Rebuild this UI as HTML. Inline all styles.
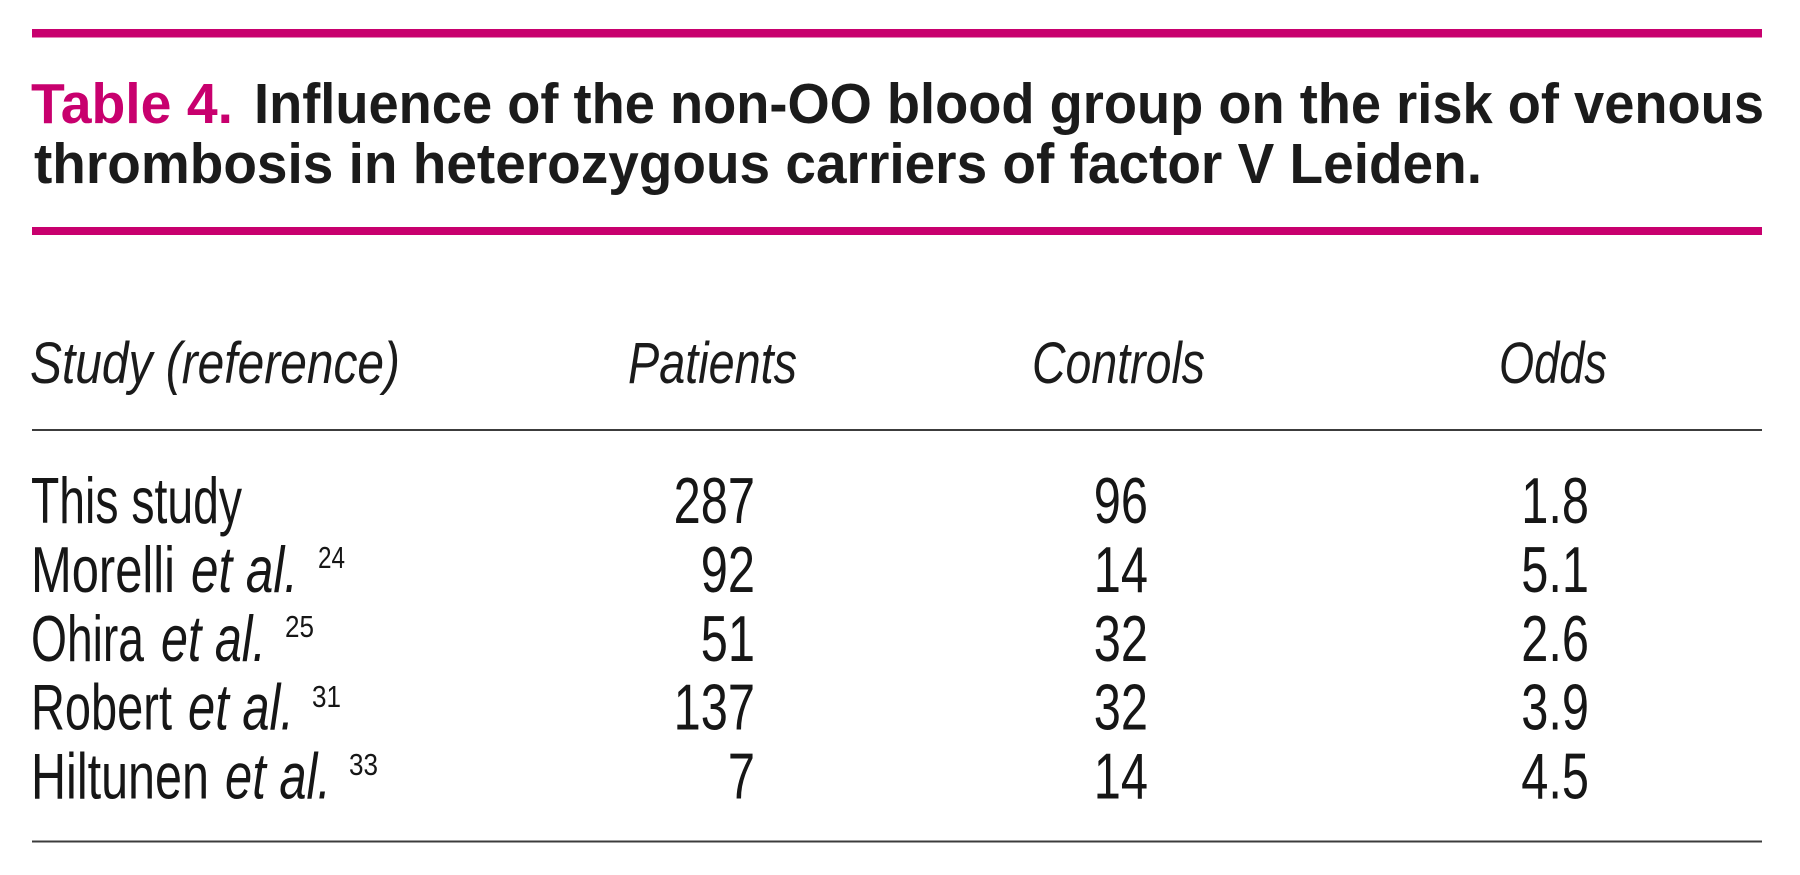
<!DOCTYPE html>
<html>
<head>
<meta charset="utf-8">
<style>
  html, body { margin: 0; padding: 0; background: #ffffff; }
  body { width: 1800px; height: 875px; overflow: hidden; }
  svg { display: block; }
  .t { font-family: "Liberation Sans", sans-serif; font-weight: bold; font-size: 57px; fill: #1b1b1b; }
  .h { font-family: "Liberation Sans", sans-serif; font-style: italic; font-size: 58px; fill: #1b1b1b; }
  .b { font-family: "Liberation Sans", sans-serif; font-size: 65px; fill: #161616; }
  .i { font-family: "Liberation Sans", sans-serif; font-style: italic; font-size: 65px; fill: #161616; }
  .s { font-family: "Liberation Sans", sans-serif; font-size: 31px; fill: #161616; }
</style>
</head>
<body>
<svg width="1800" height="875" viewBox="0 0 1800 875" xmlns="http://www.w3.org/2000/svg">
  <rect x="0" y="0" width="1800" height="875" fill="#ffffff"/>

  <!-- pink rules -->
  <rect x="32" y="29" width="1730" height="8.5" fill="#C8006E"/>
  <rect x="32" y="227" width="1730" height="8" fill="#C8006E"/>

  <!-- title -->
  <text class="t" x="31" y="123" textLength="202" lengthAdjust="spacingAndGlyphs" style="fill:#C8006E">Table 4.</text>
  <text class="t" x="254" y="123" textLength="1510" lengthAdjust="spacingAndGlyphs">Influence of the non-OO blood group on the risk of venous</text>
  <text class="t" x="34" y="183" textLength="1448" lengthAdjust="spacingAndGlyphs">thrombosis in heterozygous carriers of factor V Leiden.</text>

  <!-- header -->
  <text class="h" x="30" y="383" textLength="370" lengthAdjust="spacingAndGlyphs">Study (reference)</text>
  <text class="h" x="628" y="383" textLength="169" lengthAdjust="spacingAndGlyphs">Patients</text>
  <text class="h" x="1032" y="383" textLength="173" lengthAdjust="spacingAndGlyphs">Controls</text>
  <text class="h" x="1499" y="383" textLength="108" lengthAdjust="spacingAndGlyphs">Odds</text>

  <rect x="32" y="429" width="1730" height="2" fill="#3c3c3c"/>

  <!-- row labels -->
  <text class="b" x="31" y="523" textLength="211" lengthAdjust="spacingAndGlyphs">This study</text>

  <text class="b" x="31" y="592" textLength="144" lengthAdjust="spacingAndGlyphs">Morelli</text>
  <text class="i" x="191" y="592" textLength="107" lengthAdjust="spacingAndGlyphs">et al.</text>
  <text class="s" x="318" y="568" textLength="27" lengthAdjust="spacingAndGlyphs">24</text>

  <text class="b" x="31" y="661" textLength="113" lengthAdjust="spacingAndGlyphs">Ohira</text>
  <text class="i" x="161" y="661" textLength="105" lengthAdjust="spacingAndGlyphs">et al.</text>
  <text class="s" x="285" y="637" textLength="29" lengthAdjust="spacingAndGlyphs">25</text>

  <text class="b" x="31" y="729.5" textLength="141" lengthAdjust="spacingAndGlyphs">Robert</text>
  <text class="i" x="188" y="729.5" textLength="106" lengthAdjust="spacingAndGlyphs">et al.</text>
  <text class="s" x="312" y="707" textLength="29" lengthAdjust="spacingAndGlyphs">31</text>

  <text class="b" x="31" y="798.5" textLength="178" lengthAdjust="spacingAndGlyphs">Hiltunen</text>
  <text class="i" x="225" y="798.5" textLength="106" lengthAdjust="spacingAndGlyphs">et al.</text>
  <text class="s" x="349" y="775" textLength="29" lengthAdjust="spacingAndGlyphs">33</text>

  <!-- Patients column (right aligned) -->
  <g class="b" text-anchor="end">
    <text class="b" transform="translate(755,523) scale(0.75,1)">287</text>
    <text class="b" transform="translate(755,592) scale(0.75,1)">92</text>
    <text class="b" transform="translate(755,661) scale(0.75,1)">51</text>
    <text class="b" transform="translate(755,729.5) scale(0.75,1)">137</text>
    <text class="b" transform="translate(755,798.5) scale(0.75,1)">7</text>
  </g>

  <!-- Controls column -->
  <g text-anchor="end">
    <text class="b" transform="translate(1148,523) scale(0.75,1)">96</text>
    <text class="b" transform="translate(1148,592) scale(0.75,1)">14</text>
    <text class="b" transform="translate(1148,661) scale(0.75,1)">32</text>
    <text class="b" transform="translate(1148,729.5) scale(0.75,1)">32</text>
    <text class="b" transform="translate(1148,798.5) scale(0.75,1)">14</text>
  </g>

  <!-- Odds column -->
  <g text-anchor="end">
    <text class="b" transform="translate(1589,523) scale(0.75,1)">1.8</text>
    <text class="b" transform="translate(1589,592) scale(0.75,1)">5.1</text>
    <text class="b" transform="translate(1589,661) scale(0.75,1)">2.6</text>
    <text class="b" transform="translate(1589,729.5) scale(0.75,1)">3.9</text>
    <text class="b" transform="translate(1589,798.5) scale(0.75,1)">4.5</text>
  </g>

  <rect x="32" y="840.5" width="1730" height="2" fill="#3c3c3c"/>
</svg>
</body>
</html>
